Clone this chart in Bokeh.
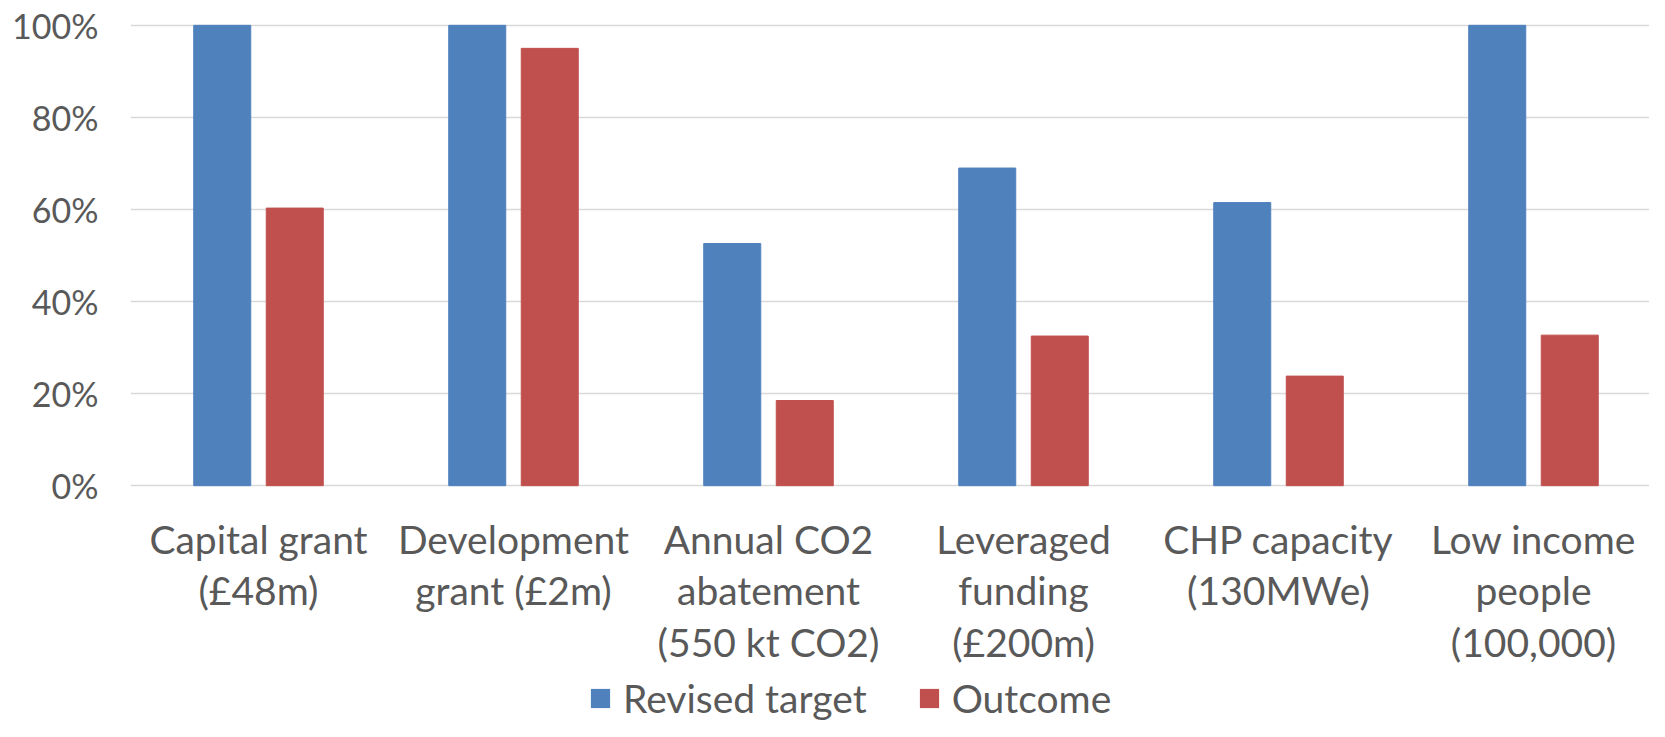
from bokeh.plotting import figure
from bokeh.layouts import column
from bokeh.models import (ColumnDataSource, Range1d, FixedTicker, PrintfTickFormatter,
                          Legend, LegendItem)
from bokeh.transform import dodge
from bokeh.embed import file_html
from bokeh.resources import INLINE

categories = [
    "Capital grant\n(£48m)",
    "Development\ngrant (£2m)",
    "Annual CO2\nabatement\n(550 kt CO2)",
    "Leveraged\nfunding\n(£200m)",
    "CHP capacity\n(130MWe)",
    "Low income\npeople\n(100,000)",
]
revised_target = [100, 100, 52.6, 69, 61.5, 100]
outcome = [60.3, 95, 18.5, 32.5, 23.8, 32.7]
y_ticks = [0, 20, 40, 60, 80, 100]
series_names = ["Revised target", "Outcome"]

FONT = "Lato"
TXT = "#595959"
BLUE = "#4F81BD"
RED = "#C0504D"

xs = list(range(len(categories)))
src = ColumnDataSource(dict(x=xs, target=revised_target, outcome=outcome))

W = 1649
H_MAIN, H_LEG = 674, 47
left, right, top = 130, 0, 23
frame_h = 464
bottom = H_MAIN - top - frame_h
frame_w = W - left - right
unit = 255.0
x_start = -128.0 / unit
x_end = x_start + frame_w / unit

p = figure(width=W, height=H_MAIN, output_backend="svg", toolbar_location=None,
           x_range=Range1d(x_start, x_end), y_range=Range1d(-0.4, 100.4),
           min_border_left=left, min_border_right=right,
           min_border_top=top, min_border_bottom=bottom)
p.outline_line_color = None
p.background_fill_color = "white"
p.border_fill_color = "white"

bw = 0.2235
off = 0.1422
p.vbar(x=dodge("x", -off), top="target", width=bw, source=src,
       fill_color=BLUE, line_color=BLUE, line_width=1)
p.vbar(x=dodge("x", off), top="outcome", width=bw, source=src,
       fill_color=RED, line_color=RED, line_width=1)

# axes
p.xaxis.ticker = FixedTicker(ticks=xs)
p.xaxis.major_label_overrides = {i: c for i, c in enumerate(categories)}
p.xaxis.axis_line_color = None
p.xaxis.major_tick_line_color = None
p.xaxis.minor_tick_line_color = None
p.xaxis.major_label_text_font = FONT
p.xaxis.major_label_text_font_size = "39px"
p.xaxis.major_label_text_color = TXT
p.xaxis.major_label_text_line_height = 1.12
p.xaxis.major_label_standoff = 22

p.yaxis.ticker = FixedTicker(ticks=y_ticks)
p.yaxis.formatter = PrintfTickFormatter(format="%d%%")
p.yaxis.axis_line_color = None
p.yaxis.major_tick_line_color = None
p.yaxis.minor_tick_line_color = None
p.yaxis.major_label_text_font = FONT
p.yaxis.major_label_text_font_size = "34px"
p.yaxis.major_label_text_color = TXT
p.yaxis.major_label_standoff = 26

p.xgrid.grid_line_color = None
p.ygrid.ticker = FixedTicker(ticks=y_ticks)
p.ygrid.grid_line_color = "#D9D9D9"
p.ygrid.grid_line_width = 1.5

# legend strip (separate small figure below the chart; frames are aligned)
lf = figure(width=W, height=H_LEG, output_backend="svg", toolbar_location=None,
            x_range=Range1d(0, 1), y_range=Range1d(0, 1),
            x_axis_type=None, y_axis_type=None,
            min_border_left=0, min_border_right=0, min_border_top=0, min_border_bottom=0)
lf.outline_line_color = None
lf.xgrid.visible = False
lf.ygrid.visible = False
# zero-height key glyphs: they draw nothing themselves, only the legend swatches
d1 = lf.vbar(x=[0.5], top=[0], bottom=[0], width=0.01, fill_color=BLUE, line_color=None)
d2 = lf.vbar(x=[0.5], top=[0], bottom=[0], width=0.01, fill_color=RED, line_color=None)

lg = Legend(items=[LegendItem(label=series_names[0], renderers=[d1]),
                   LegendItem(label=series_names[1], renderers=[d2])],
            orientation="horizontal", location=(458, 0))
lg.background_fill_alpha = 0
lg.border_line_color = None
lg.padding = 0
lg.margin = 0
lg.spacing = 50
lg.glyph_width = 24
lg.glyph_height = 24
lg.label_standoff = 11
lg.label_text_font = FONT
lg.label_text_font_size = "39px"
lg.label_text_color = TXT
lf.add_layout(lg, "center")

layout = column(p, lf, spacing=0)
open("out.html", "w").write(file_html(layout, INLINE))
